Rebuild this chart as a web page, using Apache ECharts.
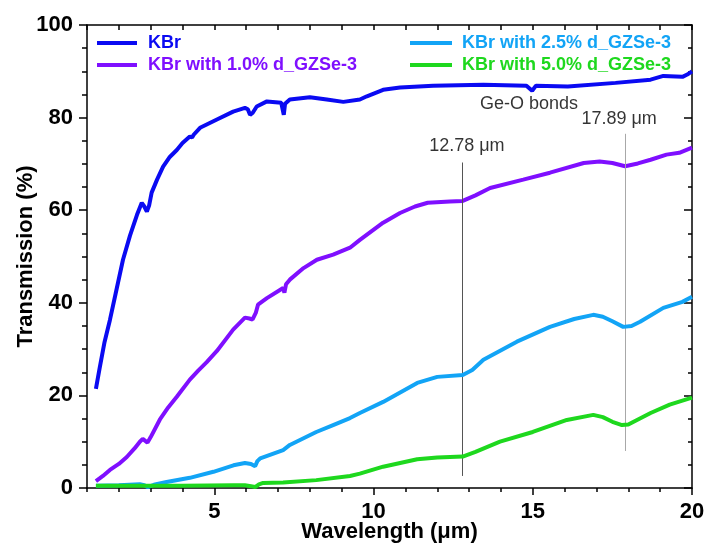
<!DOCTYPE html>
<html>
<head>
<meta charset="utf-8">
<script src="https://cdn.jsdelivr.net/npm/echarts@6/dist/echarts.min.js"></script>
<style>
  html, body { margin: 0; padding: 0; background: #fff; }
  #chart { width: 707px; height: 553px; }
</style>
</head>
<body>
<div id="chart"></div>
<script>
// series names and colours
const seriesNames = ['KBr', 'KBr with 1.0% d_GZSe-3', 'KBr with 2.5% d_GZSe-3', 'KBr with 5.0% d_GZSe-3'];
const seriesColors = ['#0a0af2', '#7f0fff', '#12a4f6', '#1ed81e'];

// wavelength (um) / transmission (%)
const kbrX = [1.28, 1.4, 1.55, 1.72, 1.9, 2.13, 2.35, 2.57, 2.72, 2.8, 2.88, 2.95, 3.03, 3.2, 3.39, 3.6, 3.82, 4.0, 4.23, 4.3, 4.35, 4.55, 5.08, 5.59, 5.96, 6.05, 6.12, 6.2, 6.33, 6.65, 7.1, 7.18, 7.22, 7.37, 8.0, 8.53, 9.05, 9.57, 9.79, 10.3, 10.83, 11.87, 13.45, 14.8, 14.98, 15.1, 16.1, 17.6, 18.7, 19.1, 19.7, 19.85, 20];
const kbrY = [21.4, 26, 31.5, 36.3, 42, 49.3, 54.5, 59, 61.6, 60.8, 59.7, 61, 63.8, 66.6, 69.4, 71.5, 73, 74.5, 75.9, 75.7, 76.3, 77.8, 79.6, 81.3, 82.1, 81.8, 80.6, 81, 82.4, 83.5, 83.2, 80.6, 83, 83.9, 84.4, 83.9, 83.4, 83.9, 84.6, 86, 86.5, 86.9, 87.1, 86.9, 85.8, 86.9, 86.7, 87.5, 88.2, 89, 88.8, 89.3, 90];

const d10X = [1.28, 1.5, 1.72, 2.0, 2.25, 2.5, 2.66, 2.75, 2.9, 3.0, 3.29, 3.55, 3.82, 4.23, 4.5, 4.76, 5.08, 5.59, 5.96, 6.1, 6.2, 6.3, 6.37, 6.65, 7.16, 7.2, 7.25, 7.37, 7.8, 8.22, 8.73, 9.26, 9.57, 10.3, 10.83, 11.3, 11.7, 12.4, 12.8, 13.2, 13.66, 14.7, 15.54, 16.6, 17.1, 17.5, 17.9, 18.3, 18.7, 19.2, 19.6, 20];
const d10Y = [1.5, 2.6, 3.9, 5.2, 6.7, 8.6, 10, 10.6, 9.8, 11, 14.8, 17.4, 19.7, 23.4, 25.4, 27.2, 29.6, 34.2, 36.8, 36.6, 36.4, 37.8, 39.6, 41, 43.2, 42.2, 44, 45, 47.5, 49.3, 50.4, 51.9, 53.6, 57.3, 59.4, 60.8, 61.6, 61.9, 62, 63.2, 64.8, 66.6, 68.1, 70.2, 70.5, 70.2, 69.5, 70.1, 70.9, 72, 72.4, 73.5];

const d25X = [1.28, 2.0, 2.66, 2.8, 2.9, 3.1, 3.5, 4.23, 4.97, 5.6, 5.96, 6.15, 6.28, 6.35, 6.44, 7.16, 7.37, 8.2, 8.73, 9.26, 9.57, 10.3, 11.37, 12.0, 12.8, 13.1, 13.45, 14.5, 15.54, 16.3, 16.9, 17.2, 17.5, 17.84, 18.1, 18.37, 19.1, 19.7, 20];
const d25Y = [0.5, 0.6, 0.8, 0.6, 0.2, 0.7, 1.3, 2.2, 3.5, 4.9, 5.4, 5.2, 4.7, 5.8, 6.4, 8.2, 9.3, 12.1, 13.6, 15.1, 16.2, 18.6, 22.7, 24, 24.4, 25.5, 27.7, 31.6, 34.8, 36.5, 37.4, 37, 36, 34.8, 35, 35.9, 38.9, 40.2, 41.3];

const d50X = [1.28, 2.66, 4.0, 5.6, 5.96, 6.15, 6.28, 6.4, 6.53, 7.16, 8.2, 9.26, 9.57, 10.3, 11.37, 12.0, 12.8, 13.2, 13.97, 15.0, 16.07, 16.9, 17.2, 17.5, 17.8, 18.0, 18.7, 19.3, 20];
const d50Y = [0.5, 0.5, 0.5, 0.6, 0.6, 0.4, 0.2, 0.8, 1.1, 1.2, 1.7, 2.6, 3.1, 4.6, 6.2, 6.6, 6.8, 7.8, 10, 12.1, 14.7, 15.8, 15.3, 14.3, 13.6, 13.7, 16.2, 18, 19.5];

// Ge-O band markers
const bandX = [12.78, 17.89];
const bandBottom = [2.6, 8];
const bandTop = [70.3, 76.5];
const bandColors = ['#555555', '#a8a8a8'];
const noteText = ['12.78 \u03bcm', '17.89 \u03bcm', 'Ge-O bonds'];
const noteX = [12.93, 17.71, 14.88];
const noteY = [73.9, 79.6, 83.0];

// axis ticks
const xMajor = [5, 10, 15, 20];
const xMinor = [1, 2, 3, 4, 6, 7, 8, 9, 11, 12, 13, 14, 16, 17, 18, 19];

const zip = (xs, ys) => xs.map((x, i) => [x, ys[i]]);
const FONT = 'Liberation Sans, Arial, sans-serif';

const chart = echarts.init(document.getElementById('chart'));

const lineSeries = [
  [kbrX, kbrY], [d10X, d10Y], [d25X, d25Y], [d50X, d50Y]
].map((d, i) => ({
  name: seriesNames[i],
  type: 'line',
  data: zip(d[0], d[1]),
  showSymbol: false,
  symbol: 'none',
  smooth: false,
  color: seriesColors[i],
  lineStyle: { width: 4, color: seriesColors[i] },
  z: 3 + i
}));

const legendItem = (i) => ({ name: seriesNames[i], textStyle: { color: seriesColors[i] } });

const option = {
  animation: false,
  grid: { left: 87, right: 15, top: 25, bottom: 65, outerBoundsMode: 'none' },
  legend: [
    {
      left: 97, top: 34, orient: 'vertical', icon: 'rect', padding: 0,
      itemWidth: 40, itemHeight: 4, itemGap: 4,
      textStyle: { fontFamily: FONT, fontSize: 18, fontWeight: 'bold', padding: [0, 0, 0, 6] },
      data: [legendItem(0), legendItem(1)]
    },
    {
      left: 410, top: 34, orient: 'vertical', icon: 'rect', padding: 0,
      itemWidth: 42, itemHeight: 4, itemGap: 4,
      textStyle: { fontFamily: FONT, fontSize: 18, fontWeight: 'bold', padding: [0, 0, 0, 5] },
      data: [legendItem(2), legendItem(3)]
    }
  ],
  xAxis: [
    {
      type: 'value', min: 1, max: 20, position: 'bottom',
      name: 'Wavelength (\u03bcm)', nameLocation: 'middle', nameGap: 33, nameMoveOverlap: false,
      nameTextStyle: { fontFamily: FONT, fontSize: 22, fontWeight: 'bold', color: '#000' },
      axisLine: { show: true, onZero: false, lineStyle: { color: '#000', width: 1.5 } },
      axisTick: { show: true, customValues: xMajor, length: 7, lineStyle: { color: '#000', width: 1.5 } },
      axisLabel: { customValues: xMajor, fontFamily: FONT, fontSize: 22, fontWeight: 'bold', color: '#000', margin: 13 },
      splitLine: { show: false }
    },
    {
      type: 'value', min: 1, max: 20, position: 'bottom',
      axisLine: { show: false, onZero: false },
      axisTick: { show: true, customValues: xMinor, length: 4, lineStyle: { color: '#000', width: 1.5 } },
      axisLabel: { show: false },
      splitLine: { show: false }
    },
    {
      type: 'value', min: 1, max: 20, interval: 1, position: 'top',
      axisLine: { show: true, onZero: false, lineStyle: { color: '#000', width: 1.5 } },
      axisTick: { show: true, inside: true, length: 5, lineStyle: { color: '#000', width: 1.5 } },
      axisLabel: { show: false },
      splitLine: { show: false }
    }
  ],
  yAxis: [
    {
      type: 'value', min: 0, max: 100, interval: 20, position: 'left',
      name: 'Transmission (%)', nameLocation: 'middle', nameGap: 50, nameMoveOverlap: false,
      nameTextStyle: { fontFamily: FONT, fontSize: 22, fontWeight: 'bold', color: '#000' },
      axisLine: { show: true, onZero: false, lineStyle: { color: '#000', width: 1.5 } },
      axisTick: { show: true, length: 8, lineStyle: { color: '#000', width: 1.5 } },
      minorTick: { show: true, splitNumber: 4, length: 5, lineStyle: { color: '#000', width: 1.5 } },
      axisLabel: { fontFamily: FONT, fontSize: 22, fontWeight: 'bold', color: '#000', margin: 14 },
      splitLine: { show: false }
    },
    {
      type: 'value', min: 0, max: 100, interval: 20, position: 'right',
      axisLine: { show: true, onZero: false, lineStyle: { color: '#000', width: 1.5 } },
      axisTick: { show: true, inside: true, length: 8, lineStyle: { color: '#000', width: 1.5 } },
      minorTick: { show: true, splitNumber: 4, length: 4, lineStyle: { color: '#000', width: 1.5 } },
      axisLabel: { show: false },
      splitLine: { show: false }
    }
  ],
  series: [
    ...lineSeries,
    {
      name: 'bands',
      type: 'line',
      data: [],
      markLine: {
        silent: true,
        symbol: 'none',
        label: { show: false },
        data: bandX.map((x, i) => [
          { coord: [x, bandBottom[i]], lineStyle: { color: bandColors[i], width: 1, type: 'solid' } },
          { coord: [x, bandTop[i]] }
        ])
      }
    },
    {
      name: 'notes',
      type: 'scatter',
      symbolSize: 0,
      silent: true,
      data: noteText.map((t, i) => ({ name: t, value: [noteX[i], noteY[i]] })),
      label: {
        show: true,
        position: 'inside',
        formatter: (p) => p.name,
        fontFamily: FONT,
        fontSize: 18,
        color: '#000',
        textBorderWidth: 0
      }
    }
  ]
};

chart.setOption(option);
window.addEventListener('resize', () => chart.resize());
</script>
</body>
</html>
